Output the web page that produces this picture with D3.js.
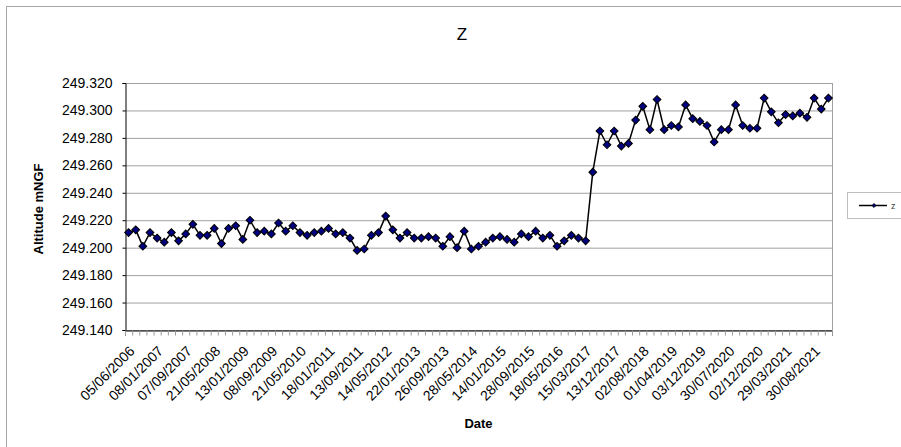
<!DOCTYPE html>
<html>
<head>
<meta charset="utf-8">
<script src="https://cdn.jsdelivr.net/npm/d3@7"></script>
<style>
    body { margin: 0; background: #fff; }
    text { font-family: "Liberation Sans", Arial, sans-serif; }
</style>
</head>
<body>
<div id="chart"></div>
<script>
const seriesName = "z";
const chartTitle = "Z";

// altitude readings, one per survey
const values = [
    249.211, 249.213, 249.201, 249.211, 249.207, 249.204, 249.211, 249.205, 249.210, 249.217,
    249.209, 249.209, 249.214, 249.203, 249.214, 249.216, 249.206, 249.220, 249.211, 249.212,
    249.210, 249.218, 249.212, 249.216, 249.211, 249.209, 249.211, 249.212, 249.214, 249.210,
    249.211, 249.207, 249.198, 249.199, 249.209, 249.211, 249.223, 249.213, 249.207, 249.211,
    249.207, 249.207, 249.208, 249.207, 249.201, 249.208, 249.200, 249.212, 249.199, 249.201,
    249.204, 249.207, 249.208, 249.206, 249.204, 249.210, 249.208, 249.212, 249.207, 249.209,
    249.201, 249.205, 249.209, 249.207, 249.205, 249.255, 249.285, 249.275, 249.285, 249.274,
    249.276, 249.293, 249.303, 249.286, 249.308, 249.286, 249.289, 249.288, 249.304, 249.294,
    249.292, 249.289, 249.277, 249.286, 249.286, 249.304, 249.289, 249.287, 249.287, 249.309,
    249.299, 249.291, 249.297, 249.296, 249.298, 249.295, 249.309, 249.301, 249.309
];

// only every 4th survey date is printed on the axis
const tickLabels = [
    "05/06/2006", "08/01/2007", "07/09/2007", "21/05/2008", "13/01/2009",
    "08/09/2009", "21/05/2010", "18/01/2011", "13/09/2011", "14/05/2012",
    "22/01/2013", "26/09/2013", "28/05/2014", "14/01/2015", "28/09/2015",
    "18/05/2016", "15/03/2017", "13/12/2017", "02/08/2018", "01/04/2019",
    "03/12/2019", "30/07/2020", "02/12/2020", "29/03/2021", "30/08/2021"
];
const labelEvery = 4;
const yTicks = [249.140, 249.160, 249.180, 249.200, 249.220, 249.240, 249.260, 249.280, 249.300, 249.320];

const w = 901;
const h = 447;
const plotLeft = 125, plotRight = 832, plotTop = 83, plotBottom = 330;

const categories = values.map(function(d, i) { return i; });

/* SCALES */
const xScale = d3.scaleBand().domain(categories).range([plotLeft, plotRight]);
const xEdges = d3.scaleLinear().domain([0, categories.length]).range([plotLeft, plotRight]);
const yScale = d3.scaleLinear().domain([yTicks[0], yTicks[yTicks.length - 1]]).range([plotBottom, plotTop]);

/* SVG */
const svg = d3.select("#chart")
    .append("svg")
    .attr("width", w)
    .attr("height", h);

// outer chart border (only top and left fall inside the window)
svg.append("rect")
    .attr("x", 6.5).attr("y", 6.5)
    .attr("width", 1000).attr("height", 1000)
    .attr("fill", "#fff")
    .attr("stroke", "#a6a6a6");

/* GRIDLINES */
svg.append("g")
    .attr("transform", "translate(" + plotLeft + ",0)")
    .call(d3.axisLeft(yScale).tickValues(yTicks).tickSize(-(plotRight - plotLeft)).tickFormat(""))
    .call(function(g) {
        g.select(".domain").remove();
        g.selectAll("line").attr("stroke", "#a0a0a0");
    });

// right border of the plot area
svg.append("line")
    .attr("x1", plotRight + 0.5).attr("x2", plotRight + 0.5)
    .attr("y1", plotTop).attr("y2", plotBottom)
    .attr("stroke", "#a0a0a0");

/* Y AXIS */
svg.append("g")
    .attr("transform", "translate(" + (plotLeft + 0.5) + ",0)")
    .call(d3.axisLeft(yScale).tickValues(yTicks).tickSize(3).tickPadding(10).tickFormat(d3.format(".3f")))
    .call(function(g) {
        g.select(".domain").attr("stroke", "#000");
        g.selectAll("line").attr("stroke", "#000");
        g.selectAll("text")
            .style("font-size", "14px")
            .attr("fill", "#000");
    });

/* X AXIS */
svg.append("g")
    .attr("transform", "translate(0," + (plotBottom + 0.5) + ")")
    .call(d3.axisBottom(xEdges).tickValues(d3.range(categories.length + 1)).tickSize(5).tickFormat(""))
    .call(function(g) {
        g.select(".domain").attr("stroke", "#000");
        g.selectAll(".tick line").attr("stroke", "#999");
    });

svg.append("g")
    .attr("transform", "translate(0," + plotBottom + ")")
    .call(d3.axisBottom(xScale)
        .tickValues(categories.filter(function(i) { return i % labelEvery === 0; }))
        .tickSize(0)
        .tickFormat(function(i) { return tickLabels[i / labelEvery]; }))
    .call(function(g) {
        g.select(".domain").remove();
        g.selectAll("text")
            .attr("y", 0)
            .attr("dy", "0.35em")
            .attr("transform", "translate(3.5,18.5) rotate(-45)")
            .attr("text-anchor", "end")
            .attr("fill", "#000")
            .style("font-size", "14px");
    });

/* LINE */
const line = d3.line()
    .x(function(d, i) { return xScale(i) + xScale.bandwidth() / 2; })
    .y(function(d) { return yScale(d); });

svg.append("path")
    .datum(values)
    .attr("fill", "none")
    .attr("stroke", "#000")
    .attr("stroke-width", 1.5)
    .attr("d", line);

/* MARKERS */
const diamond = d3.symbol().type(d3.symbolSquare).size(30);

svg.selectAll(".marker")
    .data(values)
    .enter()
    .append("path")
    .attr("class", "marker")
    .attr("d", diamond)
    .attr("transform", function(d, i) {
        return "translate(" + (xScale(i) + xScale.bandwidth() / 2) + "," + yScale(d) + ") rotate(45)";
    })
    .attr("fill", "#000080")
    .attr("stroke", "#000")
    .attr("stroke-width", 1);

/* TEXT */
svg.append("text")
    .attr("x", 462)
    .attr("y", 40)
    .attr("text-anchor", "middle")
    .style("font-size", "17px")
    .text(chartTitle);

svg.append("text")
    .attr("transform", "translate(38,209) rotate(-90)")
    .attr("dy", "0.35em")
    .attr("text-anchor", "middle")
    .style("font-size", "13px")
    .style("font-weight", "bold")
    .text("Altitude mNGF");

svg.append("text")
    .attr("x", (plotLeft + plotRight) / 2)
    .attr("y", 428)
    .attr("text-anchor", "middle")
    .style("font-size", "13px")
    .style("font-weight", "bold")
    .text("Date");

/* LEGEND */
const legend = svg.append("g").attr("transform", "translate(847,192)");

legend.append("rect")
    .attr("x", 0.5).attr("y", 0.5)
    .attr("width", 80).attr("height", 26)
    .attr("fill", "#fff")
    .attr("stroke", "#bfbfbf");

legend.append("line")
    .attr("x1", 12).attr("x2", 40)
    .attr("y1", 13.5).attr("y2", 13.5)
    .attr("stroke", "#000")
    .attr("stroke-width", 1.5);

legend.append("path")
    .attr("d", d3.symbol().type(d3.symbolSquare).size(8))
    .attr("transform", "translate(27,13.5) rotate(45)")
    .attr("fill", "#000080")
    .attr("stroke", "#000")
    .attr("stroke-width", 0.8);

legend.append("text")
    .attr("x", 44)
    .attr("y", 13.5)
    .attr("dy", "0.35em")
    .attr("fill", "#404040")
    .style("font-size", "9px")
    .text(seriesName);
</script>
</body>
</html>
